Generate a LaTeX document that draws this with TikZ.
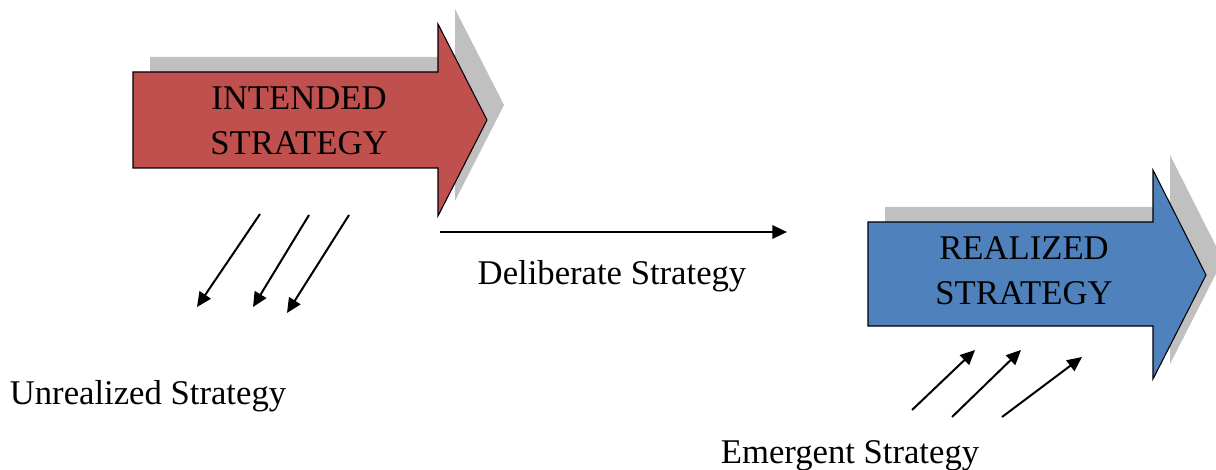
\documentclass[tikz,border=0pt]{standalone}
\usepackage{fontspec}
\setmainfont{Liberation Serif}
\usetikzlibrary{arrows.meta}
\definecolor{intendred}{RGB}{192,80,77}
\definecolor{realblue}{RGB}{79,129,189}
\definecolor{shadowgray}{RGB}{192,192,192}

\begin{document}
\begin{tikzpicture}[x=0.75pt, y=-0.75pt,
	bigarrow/.style={draw=black, line width=0.8pt, line join=miter},
	strat/.style={-{Triangle[length=11pt, width=10pt]}, line width=1.5pt},
	stext/.style={font=\fontsize{26}{34}\selectfont, align=center, inner sep=0pt}]
\useasboundingbox (0,0) rectangle (1216,470);

%shadows
	\fill[shadowgray] (150,57) -- (455,57) -- (455,9) -- (504,105) -- (455,201) -- (455,153) -- (150,153) -- cycle;
	\fill[shadowgray] (885,207) -- (1170,207) -- (1170,155) -- (1223,260) -- (1170,364) -- (1170,311) -- (885,311) -- cycle;

%big arrows
	\draw[bigarrow, fill=intendred] (133,72) -- (438,72) -- (438,24) -- (487,120) -- (438,216) -- (438,168) -- (133,168) -- cycle;
	\draw[bigarrow, fill=realblue] (868,222) -- (1153,222) -- (1153,170) -- (1206,275) -- (1153,379) -- (1153,326) -- (868,326) -- cycle;

	\node[stext] (intended) at (299,121) {INTENDED\\STRATEGY};
	\node[stext] (realized) at (1024,271) {REALIZED\\STRATEGY};

%labels
	\node[stext] (deliberate) at (612,276) {Deliberate Strategy};
	\node[stext] (unrealized) at (148,396) {Unrealized Strategy};
	\node[stext] (emergent) at (850,456) {Emergent Strategy};

%deliberate
	\coordinate (dstart) at (440,232);
	\coordinate (dend) at (787,232);
	\draw[strat] (dstart) -- (dend);

%unrealized
	\foreach \n/\xa/\ya/\xb/\yb in {1/260/214/197/307, 2/309/215/253/307, 3/349/215/287/313}{
		\coordinate (ustart\n) at (\xa,\ya);
		\coordinate (uend\n) at (\xb,\yb);
		\draw[strat] (ustart\n) -- (uend\n);
	}

%emergent
	\foreach \n/\xa/\ya/\xb/\yb in {1/912/410/975/350, 2/952/417/1021/350, 3/1002/417/1082/357}{
		\coordinate (estart\n) at (\xa,\ya);
		\coordinate (eend\n) at (\xb,\yb);
		\draw[strat] (estart\n) -- (eend\n);
	}

\end{tikzpicture}
\end{document}
